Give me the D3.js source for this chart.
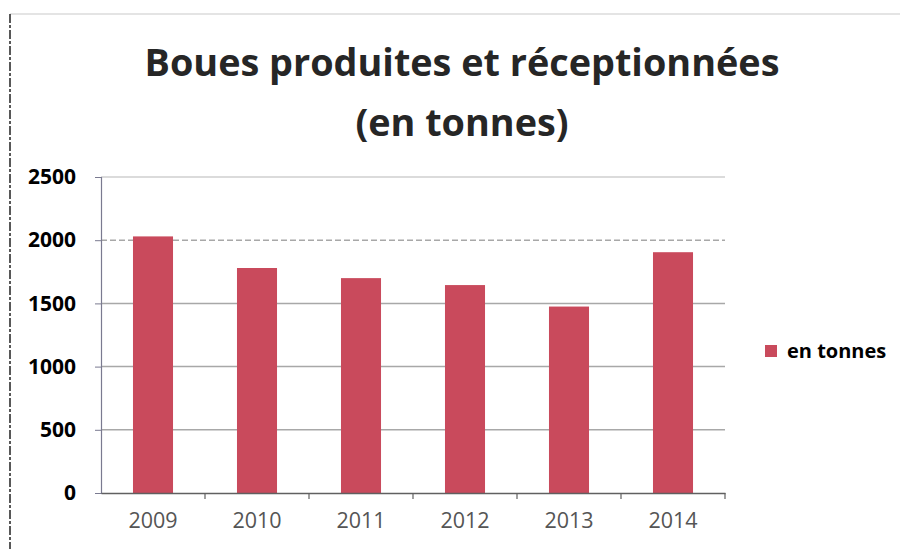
<!DOCTYPE html>
<html><head><meta charset="utf-8">
<script src="https://cdn.jsdelivr.net/npm/d3@7"></script>
<style>body{margin:0;background:#fff}svg{display:block}</style>
</head><body>
<svg id="c" width="900" height="549"></svg>
<script>
const titleLines = ["Boues produites et réceptionnées", "(en tonnes)"];
const categories = ["2009", "2010", "2011", "2012", "2013", "2014"];
const values = [2030, 1780, 1700, 1645, 1475, 1905];
const yTicks = [0, 500, 1000, 1500, 2000, 2500];
const seriesName = "en tonnes";

const svg = d3.select("#c");
const plot = {left: 101, right: 725, top: 177, bottom: 493};
const barColor = "#c94a5c";

// page frame details
svg.append("line").attr("x1", 10).attr("x2", 900).attr("y1", 14).attr("y2", 14)
  .attr("stroke", "#e4e4e4").attr("stroke-width", 2);
svg.append("line").attr("x1", 10).attr("x2", 10).attr("y1", 14).attr("y2", 549)
  .attr("stroke", "#222").attr("stroke-width", 1.5).attr("stroke-dasharray", "9,2,3,2");

const x = d3.scaleBand().domain(categories).range([plot.left, plot.right])
  .paddingInner(0.615).paddingOuter(0.3075);
const y = d3.scaleLinear().domain([0, 2500]).range([plot.bottom, plot.top]);

// gridlines
svg.append("g").selectAll("line").data(yTicks.filter(d => d > 0)).join("line")
  .attr("x1", plot.left).attr("x2", plot.right)
  .attr("y1", d => y(d)).attr("y2", d => y(d))
  .attr("stroke", d => d === 2500 ? "#cfcfcf" : "#a8a8a8")
  .attr("stroke-width", 1.5)
  .attr("stroke-dasharray", d => d === 2000 ? "6,3" : null);

// bars
svg.append("g").selectAll("rect").data(values).join("rect")
  .attr("x", (d, i) => x(categories[i]))
  .attr("width", x.bandwidth())
  .attr("y", d => y(d))
  .attr("height", d => y(0) - y(d))
  .attr("fill", barColor);

// y axis
const yAxis = d3.axisLeft(y).tickValues(yTicks).tickSize(6).tickPadding(19).tickFormat(d3.format("d"));
const gy = svg.append("g").attr("transform", `translate(${plot.left},0)`).call(yAxis);
gy.select(".domain").attr("stroke", "#7a7a90").attr("stroke-width", 1.2);
gy.selectAll(".tick line").attr("stroke", "#7a7a90");
gy.selectAll(".tick text").attr("font-family", "'Open Sans', sans-serif")
  .attr("font-weight", "bold").attr("font-size", 21).attr("fill", "#000");

// x axis
const xAxis = d3.axisBottom(x).tickSize(0).tickPadding(20);
const gx = svg.append("g").attr("transform", `translate(0,${plot.bottom})`).call(xAxis);
gx.select(".domain").attr("stroke", "#606060").attr("stroke-width", 1.5);
gx.selectAll(".tick text").attr("font-family", "'Open Sans', sans-serif")
  .attr("font-size", 21.5).attr("fill", "#555");
// band boundary ticks
const bounds = categories.slice(1).map(c => x(c) - x.step() * x.paddingInner() / 2);
svg.append("g").selectAll("line").data(bounds.concat([plot.right])).join("line")
  .attr("x1", d => d).attr("x2", d => d)
  .attr("y1", plot.bottom).attr("y2", plot.bottom + 6)
  .attr("stroke", "#606060").attr("stroke-width", 1.2);

// title
const title = svg.append("g");
titleLines.forEach((t, i) => {
  title.append("text").attr("x", 462).attr("y", 76 + i * 60)
    .attr("text-anchor", "middle").attr("font-family", "'Open Sans', sans-serif")
    .attr("font-weight", "bold").attr("font-size", 34).attr("fill", "#262626").text(t);
});
const t0 = title.select("text").node();
const w0 = t0.getComputedTextLength();
title.selectAll("text").attr("font-size", 34 * 635 / w0);

// legend
const lg = svg.append("g").attr("transform", "translate(765,345)");
lg.append("rect").attr("width", 12).attr("height", 12).attr("fill", barColor);
lg.append("text").attr("x", 22).attr("y", 6).attr("dy", "0.35em")
  .attr("font-family", "'Open Sans', sans-serif").attr("font-weight", "bold")
  .attr("font-size", 20).attr("fill", "#000").text(seriesName);
</script>
</body></html>
